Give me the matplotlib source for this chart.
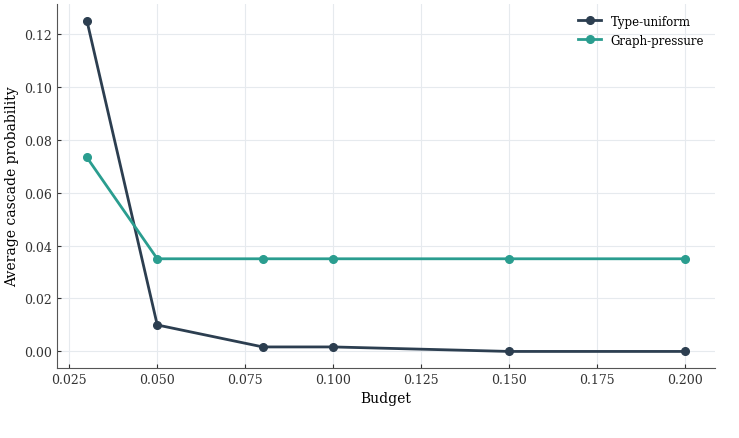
import matplotlib
matplotlib.use("Agg")
import matplotlib.pyplot as plt

budgets = [0.03, 0.05, 0.08, 0.10, 0.15, 0.20]
type_uniform = [0.125, 0.010, 0.0017, 0.0017, 0.0, 0.0]
graph_pressure = [0.0733, 0.035, 0.035, 0.035, 0.035, 0.035]

plt.rcParams['font.family'] = ['DejaVu Serif']
plt.rcParams['font.size'] = 9

fig = plt.figure(figsize=(7.39, 4.39), dpi=100)
ax = fig.add_axes([0.0771, 0.1595, 0.8904, 0.8291])

ax.plot(budgets, type_uniform, '-o', color='#2c3e50', lw=2, ms=5.5, label='Type-uniform')
ax.plot(budgets, graph_pressure, '-o', color='#2a9d8f', lw=2, ms=5.5, label='Graph-pressure')

ax.set_xlabel('Budget', fontsize=10)
ax.set_ylabel('Average cascade probability', fontsize=10)
ax.grid(True, color='#e6eaee', lw=0.8)
ax.set_axisbelow(True)
for s in ['top', 'right']:
    ax.spines[s].set_visible(False)
for s in ['left', 'bottom']:
    ax.spines[s].set_color('#555555')
ax.tick_params(direction='in', length=3, colors='#333333', labelsize=9)
ax.legend(frameon=False, loc='upper right', fontsize=8.5)

fig.savefig('out.png', dpi=100)
